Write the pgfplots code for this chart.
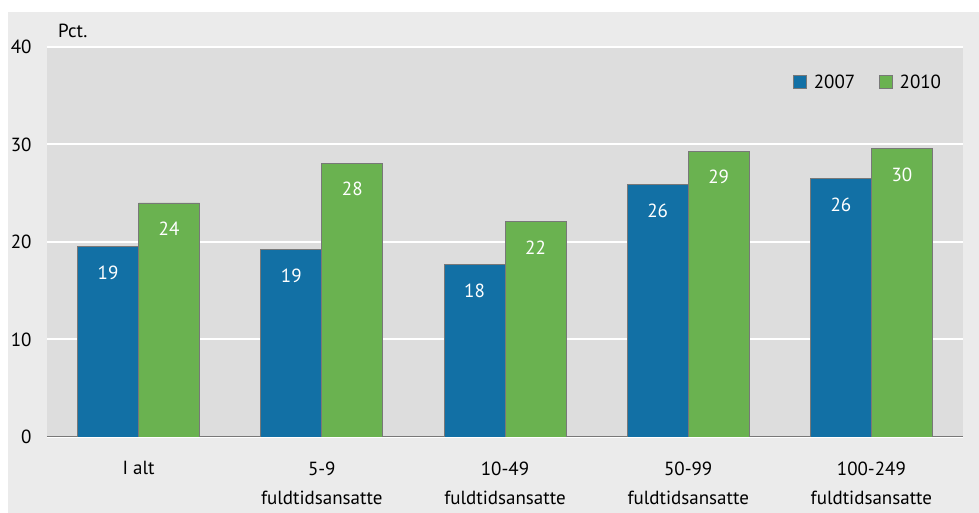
\documentclass[border=0pt]{standalone}
\usepackage{fontspec}
\setmainfont{PT Sans}
\usepackage{pgfplots}
\pgfplotsset{compat=1.18}
\definecolor{outerbg}{RGB}{235,235,235}
\definecolor{plotbg}{RGB}{221,221,221}
\definecolor{cblue}{RGB}{18,112,165}
\definecolor{cgreen}{RGB}{106,178,80}
\definecolor{edge}{RGB}{120,120,120}
\begin{document}
\begin{tikzpicture}[x=1pt,y=1pt]
\fill[white] (-47,-76) rectangle (932,437);
\fill[outerbg] (-39,-76) rectangle (932,425);
\begin{axis}[
  at={(0,0)}, anchor=south west,
  scale only axis, width=916pt, height=390pt,
  xmin=-0.5, xmax=4.5, ymin=0, ymax=40,
  axis background/.style={fill=plotbg},
  ybar=0pt, bar width=61pt,
  font=\fontsize{19}{29}\selectfont,
  /pgf/number format/assume math mode=true,
  xtick={0,1,2,3,4},
  xticklabels={I alt, {5-9\\fuldtidsansatte}, {10-49\\fuldtidsansatte}, {50-99\\fuldtidsansatte}, {100-249\\fuldtidsansatte}},
  xticklabel style={align=center, anchor=north, yshift=-21pt},
  ytick={0,10,20,30,40},
  yticklabel style={xshift=-12pt},
  major tick length=0pt,
  ymajorgrids, grid style={white, line width=2pt},
  separate axis lines,
  axis x line*=bottom, axis y line*=left,
  y axis line style={draw=none},
  x axis line style={draw=edge, line width=1pt, -},
  point meta=explicit symbolic,
  nodes near coords,
  every node near coord/.append style={anchor=center, yshift=-26pt, text=white, font=\fontsize{19}{20}\selectfont},
  legend style={draw=none, fill=none, at={(axis description cs:0.8114,0.910)}, anchor=west, legend columns=2, font=\fontsize{19}{20}\selectfont, /tikz/every even column/.append style={column sep=22pt}},
  legend image code/.code={\draw[#1, draw=edge] (0pt,-6.5pt) rectangle (13pt,6.5pt); \path[draw=none, fill=none] (0pt,0pt) -- (18pt,0pt);},
]
\addplot[fill=cblue, draw=edge, line width=0.8pt] coordinates {(0,19.5)[19] (1,19.2)[19] (2,17.7)[18] (3,25.9)[26] (4,26.5)[26]};
\addplot[fill=cgreen, draw=edge, line width=0.8pt] coordinates {(0,24.0)[24] (1,28.1)[28] (2,22.1)[22] (3,29.3)[29] (4,29.6)[30]};
\legend{2007,2010}
\end{axis}
\node[anchor=base west, inner sep=0pt, font=\fontsize{19}{20}\selectfont] at (11,399) {Pct.};
\pgfresetboundingbox
\useasboundingbox (-47,-76) rectangle (932,437);
\end{tikzpicture}
\end{document}
